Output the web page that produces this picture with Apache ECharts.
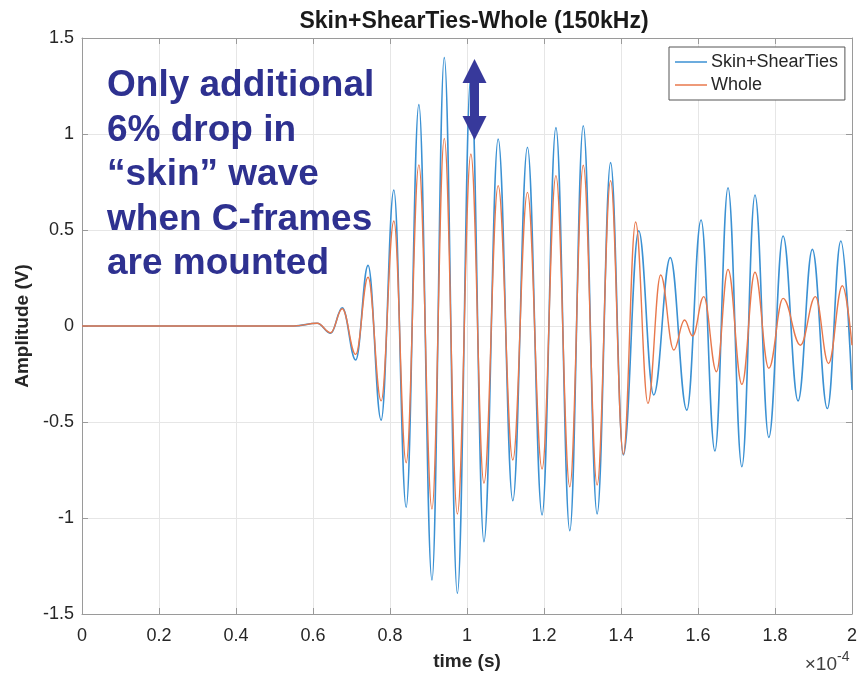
<!DOCTYPE html>
<html>
<head>
<meta charset="utf-8">
<title>Skin+ShearTies-Whole (150kHz)</title>
<script src="https://cdn.jsdelivr.net/npm/echarts@6/dist/echarts.min.js"></script>
<style>
  html, body { margin: 0; padding: 0; background: #fff; }
  #chart { width: 860px; height: 676px; }
</style>
</head>
<body>
<div id="chart"></div>
<script>
// time in units of 1e-4 s (peaks and troughs)
const skinTime = [0, 0.55, 0.611, 0.646, 0.676, 0.711, 0.743, 0.777, 0.81, 0.842,
  0.875, 0.909, 0.941, 0.975, 1.01, 1.044, 1.081, 1.119, 1.157, 1.195,
  1.231, 1.267, 1.302, 1.338, 1.373, 1.406, 1.446, 1.485, 1.528, 1.571,
  1.608, 1.644, 1.678, 1.714, 1.748, 1.784, 1.821, 1.86, 1.897, 1.936,
  1.971, 2.0]
const skinAmp = [0, 0, 0.014, -0.038, 0.095, -0.177, 0.316, -0.49, 0.708, -0.944,
  1.153, -1.323, 1.398, -1.392, 1.3, -1.123, 0.974, -0.91, 0.931, -0.984,
  1.033, -1.066, 1.043, -0.979, 0.851, -0.672, 0.496, -0.359, 0.356, -0.438,
  0.552, -0.651, 0.72, -0.733, 0.682, -0.58, 0.469, -0.39, 0.399, -0.43,
  0.443, -0.333]

const wholeTime = [0, 0.55, 0.611, 0.646, 0.676, 0.711, 0.743, 0.777, 0.81, 0.842,
  0.875, 0.909, 0.941, 0.975, 1.01, 1.044, 1.081, 1.119, 1.157, 1.195,
  1.231, 1.267, 1.302, 1.338, 1.373, 1.406, 1.438, 1.47, 1.503, 1.537,
  1.565, 1.586, 1.615, 1.648, 1.678, 1.714, 1.748, 1.784, 1.821, 1.866,
  1.905, 1.939, 1.975, 2.0]
const wholeAmp = [0, 0, 0.014, -0.035, 0.09, -0.148, 0.254, -0.39, 0.547, -0.712,
  0.839, -0.953, 0.977, -0.979, 0.896, -0.819, 0.731, -0.698, 0.696, -0.745,
  0.783, -0.837, 0.837, -0.828, 0.757, -0.668, 0.542, -0.403, 0.266, -0.125,
  0.031, -0.052, 0.153, -0.238, 0.295, -0.304, 0.28, -0.22, 0.144, -0.1,
  0.153, -0.195, 0.21, -0.1]

const seriesNames = ['Skin+ShearTies', 'Whole']
const xTicks = ['0', '0.2', '0.4', '0.6', '0.8', '1', '1.2', '1.4', '1.6', '1.8', '2']

const chart = echarts.init(document.getElementById('chart'))

const zip = (xs, ys) => xs.map((x, i) => [x, ys[i]])

const axisColor = '#9a9a9a'
const labelStyle = { color: '#262626', fontSize: 18, fontFamily: 'Liberation Sans, Arial' }

// top / right edges of the box, ticks only
const frameAxis = {
  type: 'value',
  axisLine: { show: true, onZero: false, lineStyle: { color: axisColor, width: 1 } },
  axisTick: { show: true, inside: true, length: 6, lineStyle: { color: axisColor } },
  axisLabel: { show: false },
  splitLine: { show: false },
}

const option = {
  backgroundColor: '#fff',
  animation: false,
  title: {
    text: 'Skin+ShearTies-Whole (150kHz)',
    left: 469,
    textAlign: 'center',
    top: 5,
    textStyle: { fontSize: 23, fontWeight: 'bold', color: '#1a1a1a', fontFamily: 'Liberation Sans, Arial' },
  },
  legend: {
    data: seriesNames,
    orient: 'vertical',
    left: 669,
    top: 47,
    padding: [6, 7, 6, 6],
    icon: 'rect',
    itemWidth: 32,
    itemHeight: 1.5,
    itemGap: 5,
    backgroundColor: '#fff',
    borderColor: '#555',
    borderWidth: 1,
    textStyle: { fontSize: 18, color: '#262626', fontFamily: 'Liberation Sans, Arial', padding: [0, 0, 0, -1] },
  },
  grid: { left: 82, right: 5, top: 38, bottom: 62, containLabel: false },
  xAxis: [
    {
      type: 'value',
      min: 0,
      max: 2,
      interval: 0.2,
      name: 'time (s)',
      nameLocation: 'middle',
      nameGap: 38,
      nameTextStyle: { fontSize: 19, fontWeight: 'bold', color: '#262626', fontFamily: 'Liberation Sans, Arial' },
      axisLine: { show: true, onZero: false, lineStyle: { color: axisColor, width: 1 } },
      axisTick: { show: true, inside: true, length: 6, lineStyle: { color: axisColor } },
      axisLabel: Object.assign({ margin: 13, formatter: (v) => xTicks[Math.round(v / 0.2)] }, labelStyle),
      splitLine: { show: true, lineStyle: { color: '#e6e6e6', width: 1 } },
    },
    Object.assign({ position: 'top', min: 0, max: 2, interval: 0.2 }, frameAxis),
  ],
  yAxis: [
    {
      type: 'value',
      min: -1.5,
      max: 1.5,
      interval: 0.5,
      name: 'Amplitude (V)',
      nameLocation: 'middle',
      nameGap: 47,
      nameTextStyle: { fontSize: 19, fontWeight: 'bold', color: '#262626', fontFamily: 'Liberation Sans, Arial' },
      axisLine: { show: true, onZero: false, lineStyle: { color: axisColor, width: 1 } },
      axisTick: { show: true, inside: true, length: 6, lineStyle: { color: axisColor } },
      axisLabel: Object.assign({ margin: 8 }, labelStyle),
      splitLine: { show: true, lineStyle: { color: '#e6e6e6', width: 1 } },
    },
    Object.assign({ position: 'right', min: -1.5, max: 1.5, interval: 0.5 }, frameAxis),
  ],
  series: [
    {
      name: seriesNames[0],
      type: 'line',
      data: zip(skinTime, skinAmp),
      symbol: 'none',
      smooth: 0.4,
      smoothMonotone: 'x',
      lineStyle: { color: '#3b91d3', width: 1.6 },
      itemStyle: { color: '#3b91d3' },
      z: 2,
    },
    {
      name: seriesNames[1],
      type: 'line',
      data: zip(wholeTime, wholeAmp),
      symbol: 'none',
      smooth: 0.4,
      smoothMonotone: 'x',
      lineStyle: { color: '#e8784c', width: 1.4 },
      itemStyle: { color: '#e8784c' },
      z: 3,
    },
  ],
  graphic: [
    {
      type: 'text',
      left: 107,
      top: 64,
      z: 10,
      style: {
        text: 'Only additional\n6% drop in\n\u201cskin\u201d wave\nwhen C-frames\nare mounted',
        font: 'bold 37px "Liberation Sans", Arial, sans-serif',
        lineHeight: 44.5,
        fill: '#2e3190',
      },
    },
    {
      type: 'polygon',
      z: 10,
      shape: {
        points: [
          [474.5, 59], [486.5, 83], [479, 83], [479, 116], [486.5, 116],
          [474.5, 140], [462.5, 116], [470, 116], [470, 83], [462.5, 83],
        ],
      },
      style: { fill: '#37399b' },
    },
    {
      type: 'text',
      right: 23,
      top: 655,
      style: { text: '\u00d710', font: '19px "Liberation Sans", Arial, sans-serif', fill: '#404040' },
    },
    {
      type: 'text',
      left: 837,
      top: 650,
      style: { text: '-4', font: '14px "Liberation Sans", Arial, sans-serif', fill: '#404040' },
    },
  ],
}

chart.setOption(option)
</script>
</body>
</html>
